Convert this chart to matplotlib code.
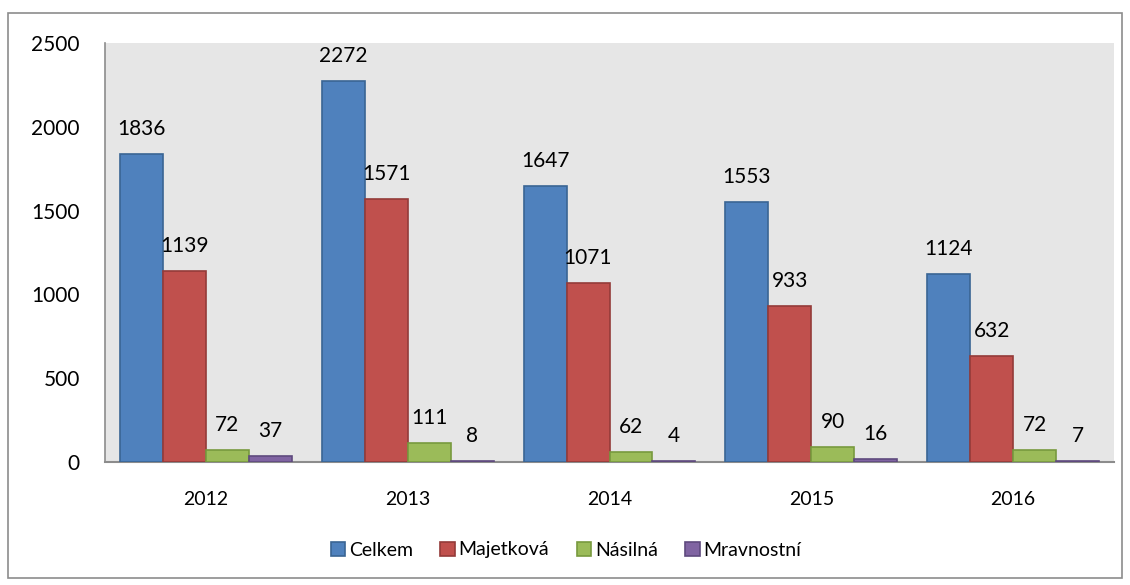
import matplotlib
matplotlib.use("Agg")
import matplotlib.pyplot as plt
import numpy as np
from matplotlib.patches import Rectangle

years = ["2012", "2013", "2014", "2015", "2016"]
series_names = ["Celkem", "Majetková", "Násilná", "Mravnostní"]
celkem = [1836, 2272, 1647, 1553, 1124]
majetkova = [1139, 1571, 1071, 933, 632]
nasilna = [72, 111, 62, 90, 72]
mravnostni = [37, 8, 4, 16, 7]
yticks = [0, 500, 1000, 1500, 2000, 2500]

face_colors = ["#4F81BD", "#C0504D", "#9BBB59", "#8064A2"]
edge_colors = ["#3A6594", "#943B39", "#789A3E", "#5F4A7E"]

plt.rcParams['font.family'] = ['Lato', 'DejaVu Sans']

fig = plt.figure(figsize=(11.3, 5.85), dpi=100)
ax = fig.add_axes([105/1130, 1 - 462/585, (1114-105)/1130, (462-43)/585])
ax.set_facecolor("#E6E6E6")

data = [celkem, majetkova, nasilna, mravnostni]
x = np.arange(len(years))
bw = 0.213
offsets = (np.arange(4) - 1.5) * bw
handles = []
for i, (vals, name) in enumerate(zip(data, series_names)):
    bars = ax.bar(x + offsets[i], vals, width=bw, color=face_colors[i],
                  edgecolor=edge_colors[i], linewidth=1.2, label=name, zorder=3)
    handles.append(bars)
    for xi, v in zip(x + offsets[i], vals):
        ax.annotate(str(v), (xi, v), xytext=(0, 18), textcoords="offset points",
                    ha="center", va="center", fontsize=15, color="black", zorder=4)

ax.set_xlim(-0.5, len(years) - 0.5)
ax.set_ylim(0, 2500)
ax.set_yticks(yticks)
ax.set_yticklabels([str(t) for t in yticks], fontsize=15)
ax.set_xticks(x)
ax.set_xticklabels(years, fontsize=14)
ax.tick_params(axis='y', length=0, pad=18)
ax.tick_params(axis='x', length=0, pad=21)
for s in ["top", "right"]:
    ax.spines[s].set_visible(False)
ax.spines["left"].set_color("#8C8C8C")
ax.spines["bottom"].set_color("#8C8C8C")
ax.spines["left"].set_linewidth(1.2)
ax.spines["bottom"].set_linewidth(1.5)

leg = fig.legend(handles=handles, labels=series_names, loc="center",
                 bbox_to_anchor=(566/1130, 1 - 550/585), ncol=4, frameon=False,
                 fontsize=14, handlelength=0.75, handleheight=0.75,
                 handletextpad=0.2, columnspacing=1.4)

border = Rectangle((8/1130, 1 - 578/585), (1122-8)/1130, (578-13)/585,
                   transform=fig.transFigure, fill=False, edgecolor="#8C8C8C",
                   linewidth=1.2)
fig.patches.append(border)

fig.savefig("out.png", dpi=100, facecolor="white")
